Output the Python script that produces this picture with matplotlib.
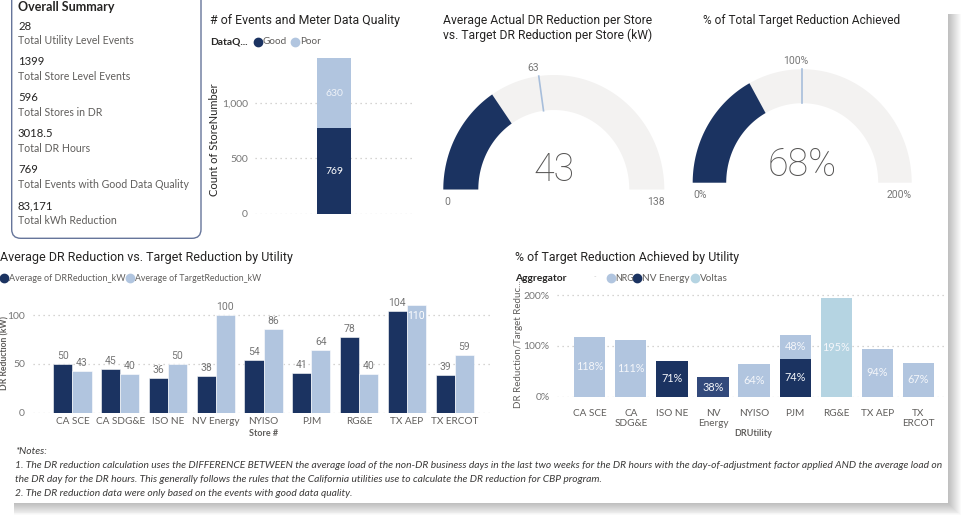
import numpy as np
import matplotlib
matplotlib.use("Agg")
import matplotlib.pyplot as plt
from matplotlib.patches import Polygon, Rectangle, FancyBboxPatch

W, H = 970, 527

summary_values = ["28", "1399", "596", "3018.5", "769", "83,171"]
summary_labels = ["Total Utility Level Events", "Total Store Level Events",
                  "Total Stores in DR", "Total DR Hours",
                  "Total Events with Good Data Quality", "Total kWh Reduction"]

quality_names = ["Good", "Poor"]
quality_counts = [769, 630]

kw_actual, kw_target, kw_max = 43, 63, 138
pct_actual, pct_target, pct_max = 68, 100, 200

utilities = ["CA SCE", "CA SDG&E", "ISO NE", "NV Energy", "NYISO", "PJM",
             "RG&E", "TX AEP", "TX ERCOT"]
avg_dr_kw = [50, 45, 36, 38, 54, 41, 78, 104, 39]
avg_target_kw = [43, 40, 50, 100, 86, 64, 40, 110, 59]

util_ticks = ["CA SCE", "CA\nSDG&E", "ISO NE", "NV\nEnergy", "NYISO", "PJM",
              "RG&E", "TX AEP", "TX\nERCOT"]
aggregators = ["NRG", "NV Energy", "Voltas"]
pct_nv_energy = [0, 0, 71, 38, 0, 74, 0, 0, 0]
pct_nrg = [118, 111, 0, 0, 64, 48, 0, 94, 67]
pct_voltas = [0, 0, 0, 0, 0, 0, 195, 0, 0]

notes = [
    "*Notes:",
    "1. The DR reduction calculation uses the DIFFERENCE BETWEEN the average load of the non-DR "
    "business days in the last two weeks for the DR hours with the day-of-adjustment factor "
    "applied AND the average load on",
    "the DR day for the DR hours. This generally follows the rules that the California utilities "
    "use to calculate the DR reduction for CBP program.",
    "2. The DR reduction data were only based on the events with good data quality.",
]

# ---- style ----
NAVY = "#1b3361"
NAVY2 = "#32497b"
LIGHT = "#b1c5df"
VOLTAS = "#b5d4e2"
GAUGE_BG = "#f3f2f1"
TARGET = "#a7bedb"
TXT = "#252423"
GRAY = "#605e5c"
TICK = "#777777"
GRID = "#c8c6c4"
TITLE_FONT = "Roboto"
BODY_FONT = "Lato"

fig = plt.figure(figsize=(W / 100, H / 100), dpi=100)
fig.patch.set_facecolor("white")

# axe "pixel" de fond : y vers le bas, comme l'image
bg = fig.add_axes([0, 0, 1, 1])
bg.set_xlim(0, W); bg.set_ylim(H, 0); bg.axis("off")


def px_axes(l, t, r, b):
    ax = fig.add_axes([l / W, 1 - b / H, (r - l) / W, (b - t) / H])
    ax.patch.set_alpha(0)
    for s in ax.spines.values():
        s.set_visible(False)
    ax.tick_params(length=0, labelsize=7, labelcolor=TICK)
    ax.grid(axis="y", ls=(0, (1, 3)), color=GRID, lw=0.9)
    ax.set_axisbelow(True)
    return ax


def txt(x, y, s, **kw):
    kw.setdefault("family", BODY_FONT)
    kw.setdefault("va", "center")
    return bg.text(x, y, s, **kw)


def fit(t, width, shrink_only=False):
    r = fig.canvas.get_renderer()
    w = t.get_window_extent(r).width
    if not shrink_only or w > width:
        t.set_fontsize(t.get_fontsize() * width / w)
    return t.get_fontsize()


def legend_item(x0, y0, name, color, width):
    bg.plot(x0, y0, "o", ms=6, color=color)
    t = txt(x0 + 5, y0, name, fontsize=7.2, color=GRAY)
    fit(t, width, shrink_only=True)


# ombre + panneau blanc
for k in range(14):
    bg.add_patch(Rectangle((14, 14), 948 - 14 + k, 503 - 14 + k * 0.95,
                           fc="black", ec="none", alpha=0.018))
bg.add_patch(Rectangle((-5, -5), 953, 508, fc="white", ec="none"))

# ---- carte résumé ----
bg.add_patch(FancyBboxPatch((11.7, -20), 189.3, 258.3,
                            boxstyle="round,pad=0,rounding_size=9",
                            fc="white", ec="#66759a", lw=1))
t = txt(18, 7, "Overall Summary", fontsize=9, weight="bold", color=TXT)
fit(t, 97)
for i, (v, lab) in enumerate(zip(summary_values, summary_labels)):
    y0 = 26 + i * 35.9
    txt(18, y0, v, fontsize=8.2, color=TXT)
    txt(18, y0 + 15, lab, fontsize=7.6, color=GRAY)

# ---- titres ----
t = txt(210, 20.7, "# of Events and Meter Data Quality", family=TITLE_FONT, fontsize=9, color=TXT)
fit(t, 192)
t = txt(442.7, 20.7, "Average Actual DR Reduction per Store", family=TITLE_FONT, fontsize=9, color=TXT)
fs_g = fit(t, 211)
txt(442.7, 35, "vs. Target DR Reduction per Store (kW)", family=TITLE_FONT, fontsize=fs_g, color=TXT)
t = txt(702.7, 20.7, "% of Total Target Reduction Achieved", family=TITLE_FONT, fontsize=9, color=TXT)
fit(t, 199)
t = txt(0, 257.3, "Average DR Reduction vs. Target Reduction by Utility", family=TITLE_FONT,
        fontsize=9, color=TXT)
fit(t, 293)
t = txt(515, 257.3, "% of Target Reduction Achieved by Utility", family=TITLE_FONT,
        fontsize=9, color=TXT)
fit(t, 227)


# ---- jauges ----
def ring(cx, cy, rx, ry, ix, iy, a0, a1, color):
    a = np.radians(np.linspace(a0, a1, 120))
    outer = np.c_[cx + rx * np.cos(a), cy - ry * np.sin(a)]
    inner = np.c_[cx + ix * np.cos(a[::-1]), cy - iy * np.sin(a[::-1])]
    bg.add_patch(Polygon(np.vstack([outer, inner]), closed=True, fc=color, ec="none"))


def gauge(cx, cy, rx, ry, ix, iy, value, target, vmax, unit, vy, lab_y):
    ring(cx, cy, rx, ry, ix, iy, 0, 180, GAUGE_BG)
    ring(cx, cy, rx, ry, ix, iy, 180 - value / vmax * 180, 180, NAVY)
    ta = np.radians(180 - target / vmax * 180)
    bg.plot([cx + ix * np.cos(ta), cx + rx * np.cos(ta)],
            [cy - iy * np.sin(ta), cy - ry * np.sin(ta)], color=TARGET, lw=1.2)
    txt(cx + rx * np.cos(ta) - 6, cy - ry * np.sin(ta) - 8, f"{target}{unit}", ha="center",
        family=TITLE_FONT, fontsize=7.5, color=TICK)
    txt(cx, vy, f"{value}{unit}", ha="center", family=TITLE_FONT, fontsize=27,
        weight="light", color="#555453")
    txt(cx - rx + 1, lab_y, f"0{unit}", ha="left", family=TITLE_FONT, fontsize=7.5, color=TICK)
    txt(cx + rx, lab_y, f"{vmax}{unit}", ha="right", family=TITLE_FONT, fontsize=7.5, color=TICK)


gauge(553.8, 189.5, 110.5, 114.5, 75.5, 79.5, kw_actual, kw_target, kw_max, "", 170, 201.7)
gauge(802.2, 182.7, 109.5, 113.5, 76, 79.5, pct_actual, pct_target, pct_max, "%", 165, 195)

# ---- barres qualité des données ----
ax1 = px_axes(255, 52.6, 413, 214)
b_good = ax1.bar(0, quality_counts[0], width=1, color=NAVY)
b_poor = ax1.bar(0, quality_counts[1], bottom=quality_counts[0], width=1, color=LIGHT)
ax1.bar_label(b_good, labels=[f"{quality_counts[0]}"], label_type="center",
              color="white", fontsize=7.5, family=BODY_FONT)
ax1.bar_label(b_poor, labels=[f"{quality_counts[1]}"], label_type="center",
              color="#eef2f8", fontsize=7.5, family=BODY_FONT)
ax1.set_xlim(-2.3, 2.3); ax1.set_ylim(0, 1450)
ax1.set_xticks([])
ax1.set_yticks([0, 500, 1000], ["0", "500", "1,000"], family=BODY_FONT)
ax1.tick_params(axis="y", pad=5, labelsize=7.5)
txt(215, 140, "Count of StoreNumber", rotation=90, ha="center", fontsize=8, color=TXT)
txt(210, 42, "DataQ...", fontsize=7.4, weight="bold", color=TXT)
legend_item(258, 42, quality_names[0], NAVY, 25)
legend_item(295, 42, quality_names[1], LIGHT, 22)

# ---- moyenne réduction vs cible ----
ax2 = px_axes(33.3, 300, 490, 412.7)
x = np.arange(len(utilities))
ymax2 = 115.4
for vals, off, c in [(avg_dr_kw, -0.2, NAVY), (avg_target_kw, 0.2, LIGHT)]:
    ax2.bar(x + off, vals, width=0.4, color=c, ec="white", lw=0.4)
    for xi, v in zip(x + off, vals):
        if v > ymax2 - 8:
            ax2.annotate(f"{v}", (xi, v), xytext=(0, -4), textcoords="offset points",
                         ha="center", va="top", fontsize=7.5, color="white", family=TITLE_FONT)
        else:
            ax2.annotate(f"{v}", (xi, v), xytext=(0, 2), textcoords="offset points",
                         ha="center", va="bottom", fontsize=7.5, color=TICK, family=TITLE_FONT)
ax2.set_xlim(-0.82, 8.74); ax2.set_ylim(0, ymax2)
ax2.set_yticks([0, 50, 100], ["0", "50", "100"], family=BODY_FONT)
ax2.set_xticks(x, utilities, family=BODY_FONT)
ax2.tick_params(axis="y", pad=6, labelsize=7.5)
ax2.tick_params(axis="x", pad=3, labelcolor=GRAY, labelsize=7.2)
txt(4.5, 353, "DR Reduction (kW)", rotation=90, ha="center", fontsize=6.2, weight="bold", color=GRAY)
txt(263.3, 433.3, "Store #", ha="center", fontsize=6.5, weight="bold", color=GRAY)
legend_item(4.5, 278.3, "Average of DRReduction_kW", NAVY, 117)
legend_item(130, 278.3, "Average of TargetReduction_kW", LIGHT, 126)

# ---- % de la cible par utility ----
ax3 = px_axes(556.7, 290, 945, 396.7)
nv_colors = [NAVY2 if u == "NV Energy" else NAVY for u in utilities]
series = [(pct_nv_energy, nv_colors), (pct_nrg, LIGHT), (pct_voltas, VOLTAS)]
bottom = np.zeros(len(utilities))
for vals, c in series:
    vals = np.array(vals)
    bars = ax3.bar(x, vals, width=0.76, bottom=bottom, color=c)
    labs = [f"{v}%" if v > 0 else "" for v in vals]
    ax3.bar_label(bars, labels=labs, label_type="center", color="#f4f6fa", fontsize=7.8,
                  family=BODY_FONT)
    bottom += vals
ax3.set_xlim(-0.806, 8.65); ax3.set_ylim(0, 210)
ax3.set_yticks([0, 100, 200], ["0%", "100%", "200%"], family=BODY_FONT)
ax3.set_xticks(x, util_ticks, linespacing=1.15, family=BODY_FONT)
ax3.tick_params(axis="y", pad=5, labelsize=7.5)
ax3.tick_params(axis="x", pad=9, labelcolor=GRAY, labelsize=7.2)
txt(518.3, 344, "DR Reduction/Target Reduc...", rotation=90, ha="center", fontsize=7,
    color=GRAY)
txt(753.3, 434, "DRUtility", ha="center", fontsize=6.5, weight="bold", color=GRAY)
txt(515, 278.3, "Aggregator", fontsize=7.4, weight="bold", color=TXT)
txt(595, 277, "-", fontsize=5, color="#cccccc", ha="center")
for x0, name, c, w in zip([610.7, 637.3, 695], aggregators, [LIGHT, NAVY, VOLTAS],
                          [19, 52, 32]):
    legend_item(x0, 278.3, name, c, w)

# ---- notes ----
t = txt(15, 466, notes[1], fontsize=6, style="italic", color="#3b3a39")
fs_n = fit(t, 933)
for y0, line in zip([452, 479.5, 493], [notes[0], notes[2], notes[3]]):
    txt(15, y0, line, fontsize=fs_n, style="italic", color="#3b3a39")

fig.savefig("out.png", dpi=100)
